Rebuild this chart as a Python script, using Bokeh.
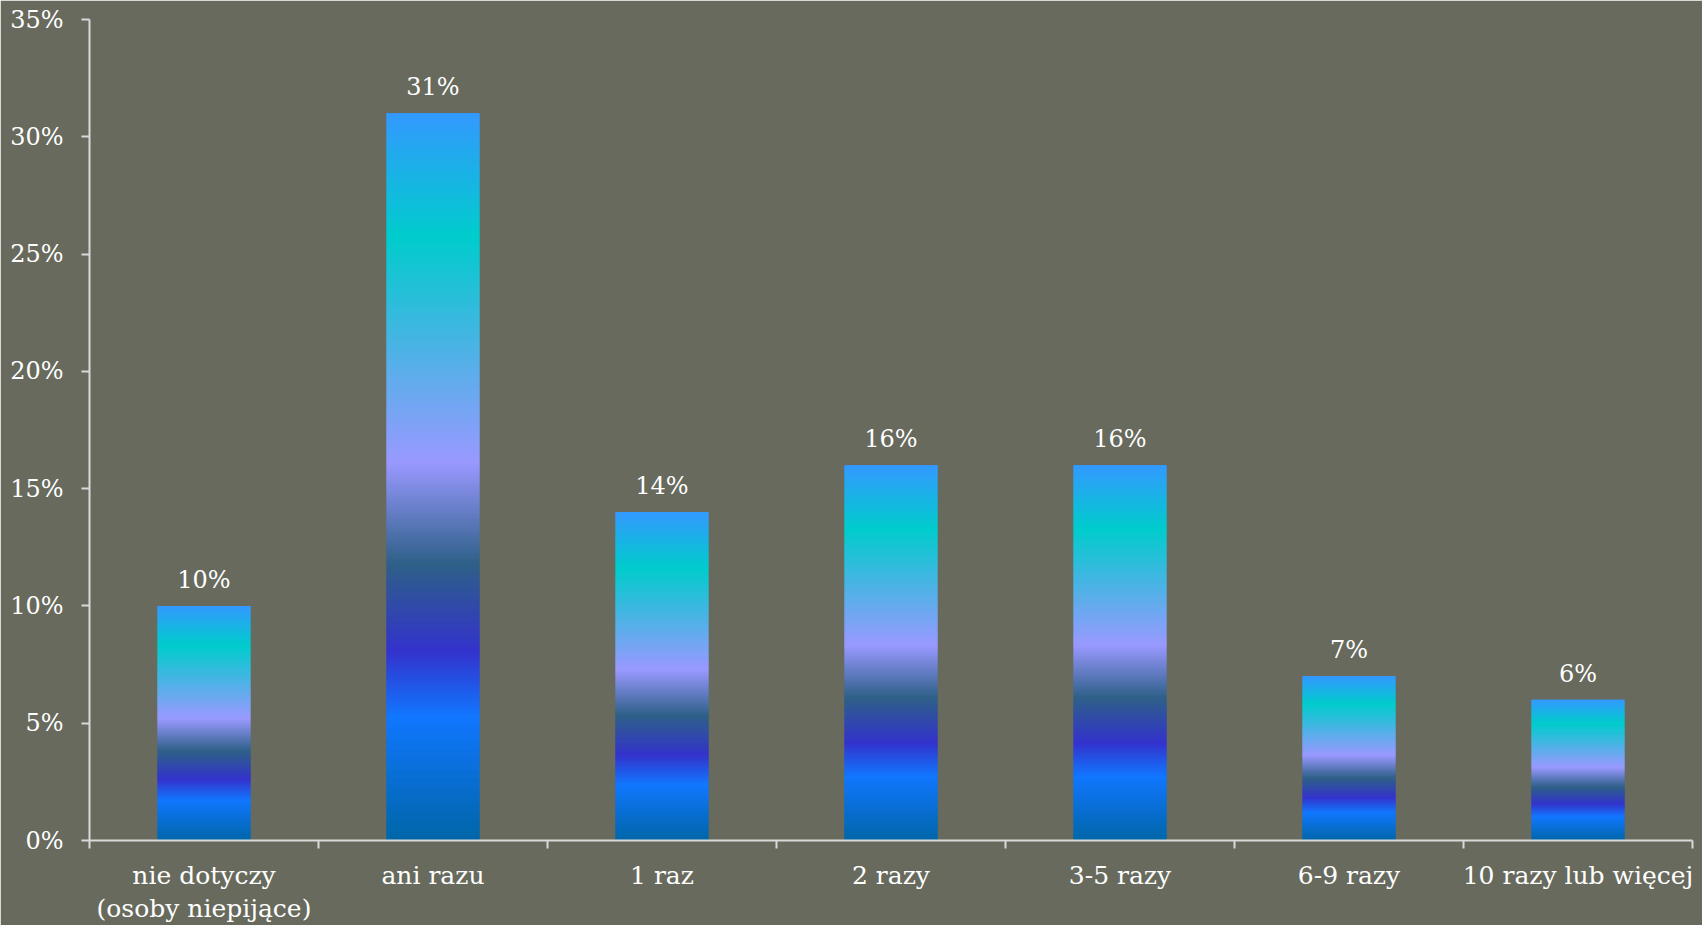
from bokeh.plotting import figure
from bokeh.models import (ColumnDataSource, FactorRange, Range1d, NumeralTickFormatter,
                          FixedTicker, LinearAxis, CustomJSTickFormatter, CategoricalAxis)
from bokeh.core.properties import value
from bokeh.embed import file_html
from bokeh.resources import INLINE

# ---- data ----
categories = ["nie dotyczy\n(osoby niepijące)", "ani razu", "1 raz", "2 razy",
              "3-5 razy", "6-9 razy", "10 razy lub więcej"]
values = [0.10, 0.31, 0.14, 0.16, 0.16, 0.07, 0.06]
labels = ["10%", "31%", "14%", "16%", "16%", "7%", "6%"]
y_ticks = [0.0, 0.05, 0.10, 0.15, 0.20, 0.25, 0.30, 0.35]

# gradient stops (fraction of bar height from bottom, colour)
grad_pos = [0.0, 0.17, 0.26, 0.38, 0.52, 0.83, 1.0]
grad_col = ["#0066A8", "#1177FF", "#3333CC", "#2E6088", "#9999FF", "#00CCCC", "#3399FF"]

BG = "#676A5C"
AXIS = "#D9D9D9"
FONT = "DejaVu Serif"


def hex2rgb(h):
    h = h.lstrip("#")
    return tuple(int(h[i:i + 2], 16) for i in (0, 2, 4))


def grad_color(t):
    for k in range(len(grad_pos) - 1):
        if grad_pos[k] <= t <= grad_pos[k + 1]:
            a, b = hex2rgb(grad_col[k]), hex2rgb(grad_col[k + 1])
            f = (t - grad_pos[k]) / (grad_pos[k + 1] - grad_pos[k])
            c = [round(a[j] + (b[j] - a[j]) * f) for j in range(3)]
            return "#%02x%02x%02x" % tuple(c)
    return grad_col[-1]


# gradient slices built from the data values
STEP = 0.0005
xs, bots, tops, cols = [], [], [], []
for cat, v in zip(categories, values):
    n = max(1, int(round(v / STEP)))
    for s in range(n):
        b = v * s / n
        t = min(v, v * (s + 1) / n + STEP)
        xs.append(cat)
        bots.append(b)
        tops.append(t)
        cols.append(grad_color((s + 0.5) / n))

slices = ColumnDataSource(dict(x=xs, bottom=bots, top=tops, color=cols))
lab_src = ColumnDataSource(dict(x=categories, y=values, text=labels))

p = figure(width=1702, height=925, x_range=FactorRange(*categories, range_padding=0),
           y_range=Range1d(0, 0.35), output_backend="svg", toolbar_location=None,
           min_border_left=89, min_border_right=10, min_border_top=19, min_border_bottom=83,
           x_axis_location=None)

p.background_fill_color = BG
p.border_fill_color = BG
p.outline_line_color = BG
p.outline_line_width = 2
p.grid.visible = False

p.vbar(x="x", bottom="bottom", top="top", width=0.406, color="color", line_color=None,
       source=slices)

p.text(x="x", y="y", text="text", source=lab_src, y_offset=-26,
       text_align="center", text_baseline="middle", text_color="#FFFFFF",
       text_font=value(FONT), text_font_size="24px")

# y axis
ya = p.yaxis[0]
ya.ticker = FixedTicker(ticks=y_ticks)
ya.formatter = NumeralTickFormatter(format="0%")
ya.axis_line_color = AXIS
ya.axis_line_width = 2
ya.major_tick_line_color = AXIS
ya.major_tick_line_width = 2
ya.major_tick_out = 8
ya.major_tick_in = 0
ya.minor_tick_line_color = None
ya.major_label_standoff = 18
ya.major_label_text_color = "#FFFFFF"
ya.major_label_text_font = FONT
ya.major_label_text_font_size = "24px"

# separator axis: axis line + ticks at category boundaries (synthetic coords 0..7)
sep_axis = LinearAxis(ticker=FixedTicker(ticks=list(range(len(categories) + 1))),
                      formatter=CustomJSTickFormatter(code="return ''"),
                      axis_line_color=AXIS, axis_line_width=2,
                      major_tick_line_color=AXIS, major_tick_line_width=2,
                      major_tick_out=8, major_tick_in=0, minor_tick_line_color=None,
                      major_label_standoff=0, major_label_text_font_size="1px")

# category label axis (no line, no ticks)
cat_axis = CategoricalAxis(axis_line_color=None, major_tick_line_color=None,
                           minor_tick_line_color=None,
                           major_label_standoff=6,
                           major_label_text_color="#FFFFFF",
                           major_label_text_font=FONT,
                           major_label_text_font_size="25px",
                           major_label_text_line_height=1.15)
p.add_layout(sep_axis, "below")
p.add_layout(cat_axis, "below")

open("out.html", "w").write(file_html(p, INLINE))
